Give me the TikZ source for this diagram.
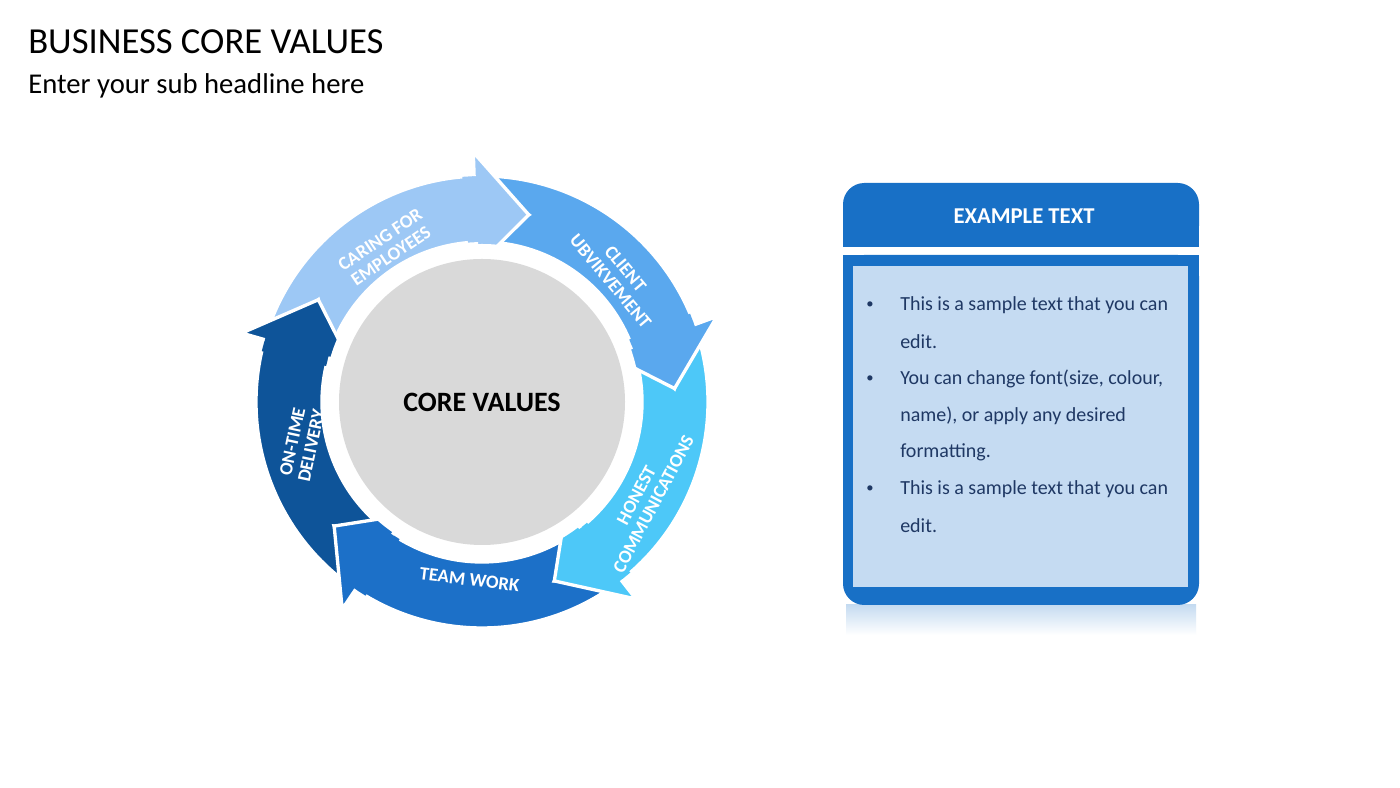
\documentclass[tikz,border=0pt]{standalone}
\usepackage{fontspec}
\setmainfont{Carlito}
\usetikzlibrary{positioning,calc}
\definecolor{caringcol}{HTML}{9DC8F5}
\definecolor{clientcol}{HTML}{5AA8EE}
\definecolor{honestcol}{HTML}{4DC8F8}
\definecolor{teamcol}{HTML}{1C70C8}
\definecolor{ontimecol}{HTML}{0E5499}
\definecolor{boxblue}{HTML}{1870C6}
\definecolor{boxfill}{HTML}{C5DBF2}
\definecolor{bodytext}{HTML}{1F3864}
% ring body: #1 tail notch angle, #2 head tip angle, #3 colour
\newcommand{\ringbody}[3]{%
  \pgfmathsetmacro{\sa}{#1+16}\pgfmathsetmacro{\ba}{#2+16}%
  \fill[#3, draw=white, line width=2.5pt, line join=miter]
    ($(ctr)+(\sa:226)$) arc[start angle=\sa, end angle=\ba, radius=226]
    -- ($(ctr)+(\ba:160)$) arc[start angle=\ba, end angle=\sa, radius=160]
    -- ($(ctr)+(#1:193)$) -- cycle;}
% ring head: #1 head tip angle, #2 colour
\newcommand{\ringhead}[2]{%
  \pgfmathsetmacro{\ba}{#1+16}\pgfmathsetmacro{\ca}{#1+19}%
  \fill[#2] ($(ctr)+(\ca:226)$) -- ($(ctr)+(\ba:226)$) -- ($(ctr)+(\ba:250)$)
    -- ($(ctr)+(#1:193)$) -- ($(ctr)+(\ba:136)$) -- ($(ctr)+(\ba:160)$) -- ($(ctr)+(\ca:160)$) -- cycle;
  \draw[white, line width=2.5pt, line join=miter] ($(ctr)+(\ba:226)$) -- ($(ctr)+(\ba:250)$)
    -- ($(ctr)+(#1:193)$) -- ($(ctr)+(\ba:136)$) -- ($(ctr)+(\ba:160)$);}
\begin{document}
\begin{tikzpicture}[x=0.75pt,y=0.75pt]
\tikzstyle{ringlabel}=[text=white, font=\bfseries\fontsize{14}{14.5}\selectfont, align=center, inner sep=1pt]
\tikzstyle{bullet}=[text=bodytext, font=\fontsize{15}{17}\selectfont, anchor=west, inner sep=0pt]
\useasboundingbox (0,0) rectangle (1400,788);
\fill[white] (0,0) rectangle (1400,788);
% headings
\node (title) [anchor=west, inner sep=0pt, font=\fontsize{27.5}{30}\selectfont] at (28,746) {BUSINESS CORE VALUES};
\node (sub) [anchor=west, inner sep=0pt, font=\fontsize{21.5}{24}\selectfont] at (28,702) {Enter your sub headline here};
% ring
\coordinate (ctr) at (482,386);
\ringbody{148}{76}{caringcol}
\ringbody{76}{4}{clientcol}
\ringbody{4}{-68}{honestcol}
\ringbody{-68}{-140}{teamcol}
\ringbody{-140}{-212}{ontimecol}
\ringhead{76}{caringcol}
\ringhead{4}{clientcol}
\ringhead{-68}{honestcol}
\ringhead{-140}{teamcol}
\ringhead{-212}{ontimecol}
\fill[white] (ctr) circle[radius=158];
\node (core) [circle, fill=black!15, minimum size=286*0.75pt, font=\bfseries\fontsize{21}{24}\selectfont] at (ctr) {CORE VALUES};
\node (caring) [ringlabel, rotate=34] at ($(ctr)+(122:182)$) {CARING FOR\\EMPLOYEES};
\node (client) [ringlabel, rotate=-50] at ($(ctr)+(43:186)$) {CLIENT\\UBVIKVEMENT};
\node (honest) [ringlabel, rotate=62] at ($(ctr)+(-31:190)$) {HONEST\\COMMUNICATIONS};
\node (team) [ringlabel, rotate=-7] at ($(ctr)+(-94:178)$) {TEAM WORK};
\node (ontime) [ringlabel, rotate=78] at ($(ctr)+(193:185)$) {ON-TIME\\DELIVERY};
% text panel
\shade[top color=boxblue!25, bottom color=white] (846,183) rectangle (1196,153);
\fill[boxblue, rounded corners=16pt] (843,605) rectangle (1199,541);
\fill[boxblue] (843,570) rectangle (1199,541);
\fill[boxblue, rounded corners=16pt] (843,533) rectangle (1199,183);
\fill[boxblue] (843,533) rectangle (1199,500);
\fill[boxfill] (853,522) rectangle (1188,201);
\node (head) [text=white, font=\bfseries\fontsize{17}{19}\selectfont] at (1024,572) {EXAMPLE TEXT};
\foreach \yy in {483,409,299} \node [bullet, font=\fontsize{11}{13}\selectfont] at (866,\yy) {•};
\foreach \yy/\txt in {483/This is a sample text that you can, 446/edit., 409/{You can change font(size, colour,}, 372/{name), or apply any desired}, 336/formatting., 299/This is a sample text that you can, 262/edit.}
  \node [bullet] at (900,\yy) {\txt};
\end{tikzpicture}
\end{document}
